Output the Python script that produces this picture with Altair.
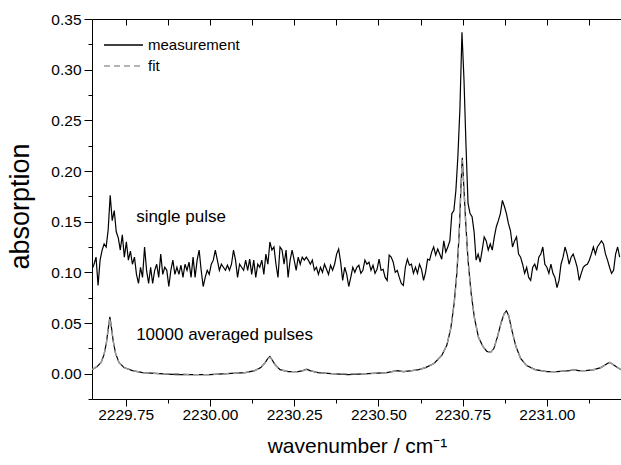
import altair as alt
import pandas as pd

# ---------------- data ----------------
# single pulse trace: sampled on a uniform wavenumber grid
sp_x_start = 2229.650
sp_x_step = 0.006
sp_y = [
    0.103, 0.108, 0.115, 0.087, 0.112, 0.122, 0.128, 0.125, 0.142, 0.176,
    0.151, 0.161, 0.140, 0.134, 0.122, 0.137, 0.115, 0.130, 0.112, 0.121,
    0.108, 0.115, 0.098, 0.089, 0.105, 0.095, 0.125, 0.102, 0.089, 0.105,
    0.089, 0.102, 0.108, 0.095, 0.118, 0.098, 0.105, 0.102, 0.086, 0.102,
    0.112, 0.098, 0.105, 0.098, 0.107, 0.095, 0.108, 0.102, 0.110, 0.095,
    0.115, 0.095, 0.112, 0.122, 0.102, 0.086, 0.095, 0.102, 0.098, 0.108,
    0.112, 0.122, 0.112, 0.102, 0.108, 0.105, 0.102, 0.107, 0.102, 0.108,
    0.122, 0.112, 0.095, 0.108, 0.105, 0.102, 0.112, 0.102, 0.113, 0.098,
    0.112, 0.095, 0.108, 0.105, 0.112, 0.098, 0.118, 0.108, 0.130, 0.122,
    0.125, 0.108, 0.095, 0.125, 0.122, 0.108, 0.122, 0.095, 0.112, 0.122,
    0.112, 0.102, 0.115, 0.108, 0.115, 0.112, 0.115, 0.112, 0.108, 0.112,
    0.102, 0.105, 0.098, 0.105, 0.100, 0.108, 0.103, 0.098, 0.107, 0.102,
    0.108, 0.118, 0.123, 0.110, 0.092, 0.105, 0.098, 0.086, 0.095, 0.105,
    0.100, 0.105, 0.107, 0.099, 0.102, 0.112, 0.108, 0.110, 0.102, 0.107,
    0.099, 0.103, 0.113, 0.102, 0.103, 0.095, 0.092, 0.117, 0.115, 0.110,
    0.100, 0.102, 0.095, 0.089, 0.087, 0.105, 0.113, 0.107, 0.108, 0.099,
    0.105, 0.099, 0.108, 0.103, 0.092, 0.100, 0.113, 0.112, 0.120, 0.125,
    0.117, 0.123, 0.118, 0.113, 0.131, 0.120, 0.125, 0.131, 0.158, 0.161,
    0.181, 0.215, 0.262, 0.337, 0.290, 0.225, 0.168, 0.158, 0.155, 0.140,
    0.112, 0.118, 0.110,
    0.122, 0.135, 0.131, 0.122, 0.128, 0.122, 0.135, 0.145, 0.151, 0.158,
    0.171, 0.165, 0.158, 0.148, 0.141, 0.125, 0.131, 0.135, 0.118, 0.115,
    0.108, 0.099, 0.105, 0.095, 0.092, 0.105, 0.108, 0.102, 0.115, 0.118,
    0.125, 0.108, 0.105, 0.099, 0.108, 0.099, 0.095, 0.085, 0.092, 0.108,
    0.115, 0.125, 0.118, 0.108, 0.115, 0.118, 0.112, 0.105, 0.092, 0.099,
    0.105, 0.107, 0.108, 0.112, 0.118, 0.125, 0.118, 0.125, 0.128, 0.131,
    0.128, 0.118, 0.112, 0.105, 0.099, 0.102, 0.118, 0.125, 0.115,
]

# 10000 averaged pulses (measurement) and its fit
avg_x = [
    2229.650, 2229.665, 2229.677, 2229.686, 2229.693, 2229.698, 2229.703, 2229.708, 2229.713, 2229.720,
    2229.730, 2229.745, 2229.770, 2229.800, 2229.850, 2229.900, 2229.950, 2230.000, 2230.050, 2230.105,
    2230.133, 2230.151, 2230.164, 2230.172, 2230.178, 2230.184, 2230.193, 2230.208, 2230.232, 2230.262,
    2230.276, 2230.287, 2230.297, 2230.320, 2230.360, 2230.410, 2230.470, 2230.525, 2230.555, 2230.575,
    2230.600, 2230.620, 2230.640, 2230.665, 2230.688, 2230.703, 2230.715, 2230.725, 2230.733, 2230.740,
    2230.745, 2230.749, 2230.753, 2230.759, 2230.766, 2230.775, 2230.785, 2230.797, 2230.810, 2230.822,
    2230.833, 2230.843, 2230.853, 2230.864, 2230.873, 2230.880, 2230.887, 2230.896, 2230.908, 2230.922,
    2230.940, 2230.965, 2231.000, 2231.030, 2231.068, 2231.080, 2231.093, 2231.115, 2231.140, 2231.160,
    2231.175, 2231.185, 2231.192, 2231.205, 2231.220,
]
avg_y = [
    0.004, 0.007, 0.011, 0.019, 0.031, 0.044, 0.056, 0.045, 0.032, 0.020,
    0.011, 0.006, 0.003, 0.001, 0.000, -0.001, -0.001, -0.001, 0.000, 0.001,
    0.003, 0.006, 0.011, 0.015, 0.017, 0.014, 0.009, 0.004, 0.002, 0.002,
    0.003, 0.0045, 0.003, 0.001, 0.000, -0.001, 0.000, 0.001, 0.003, 0.002,
    0.003, 0.004, 0.006, 0.010, 0.018, 0.028, 0.045, 0.070, 0.100, 0.140,
    0.185, 0.213, 0.188, 0.150, 0.112, 0.080, 0.055, 0.036, 0.027, 0.022,
    0.021, 0.025, 0.036, 0.050, 0.059, 0.062, 0.057, 0.043, 0.027, 0.015,
    0.008, 0.004, 0.002, 0.002, 0.003, 0.004, 0.003, 0.003, 0.004, 0.006,
    0.009, 0.011, 0.010, 0.007, 0.004,
]
fit_y = [
    0.004, 0.007, 0.011, 0.019, 0.031, 0.044, 0.055, 0.045, 0.032, 0.020,
    0.011, 0.006, 0.003, 0.001, 0.000, 0.000, -0.001, -0.001, 0.000, 0.001,
    0.003, 0.006, 0.011, 0.015, 0.016, 0.014, 0.009, 0.004, 0.002, 0.002,
    0.003, 0.004, 0.003, 0.001, 0.000, 0.000, 0.000, 0.001, 0.003, 0.002,
    0.003, 0.004, 0.006, 0.010, 0.018, 0.028, 0.045, 0.070, 0.100, 0.140,
    0.184, 0.211, 0.187, 0.150, 0.112, 0.080, 0.055, 0.036, 0.027, 0.022,
    0.021, 0.025, 0.036, 0.050, 0.059, 0.061, 0.057, 0.043, 0.027, 0.015,
    0.008, 0.004, 0.002, 0.002, 0.003, 0.004, 0.003, 0.003, 0.004, 0.006,
    0.009, 0.011, 0.010, 0.007, 0.004,
]

x_major = [2229.75, 2230.00, 2230.25, 2230.50, 2230.75, 2231.00]
x_minor = [2229.875, 2230.125, 2230.375, 2230.625, 2230.875, 2231.125]
y_major = [0.00, 0.05, 0.10, 0.15, 0.20, 0.25, 0.30, 0.35]
y_minor = [-0.025, 0.025, 0.075, 0.125, 0.175, 0.225, 0.275, 0.325]

annot_text = ["single pulse", "10000 averaged pulses"]
annot_x = [2229.781, 2229.781]
annot_y = [0.1546, 0.0380]

legend_labels = ["measurement", "fit"]

# ---------------- build tables ----------------
assert len(avg_x) == len(avg_y) == len(fit_y)
sp_x = [round(sp_x_start + sp_x_step * i, 4) for i in range(len(sp_y))]
meas_rows = [dict(x=a, y=b, trace="single") for a, b in zip(sp_x, sp_y)]
meas_rows += [dict(x=a, y=b, trace="averaged") for a, b in zip(avg_x, avg_y)]
meas_df = pd.DataFrame(meas_rows)
fit_df = pd.DataFrame(dict(x=avg_x, y=fit_y))
ann1 = pd.DataFrame(dict(x=[annot_x[0]], y=[annot_y[0]], t=[annot_text[0]]))
ann2 = pd.DataFrame(dict(x=[annot_x[1]], y=[annot_y[1]], t=[annot_text[1]]))

FONT = "Liberation Sans"
W, H = 529, 380
xs = alt.Scale(domain=[2229.65, 2231.22], nice=False, zero=False)
ys = alt.Scale(domain=[-0.025, 0.35], nice=False, zero=False)

ax_x_major = alt.Axis(orient="bottom", values=x_major, format=".2f", tickSize=7,
                      labelFont=FONT, labelFontSize=15.5, labelColor="black", labelPadding=1,
                      labelFlush=False, labelOverlap=False, domainColor="black", tickColor="black",
                      grid=False, title="wavenumber / cm\u207b\u00b9", titleFont=FONT,
                      titleFontSize=21, titleFontWeight="normal", titleColor="black",
                      titleX=265, titleY=53, titleAlign="center", titleBaseline="alphabetic")
ax_x_minor = alt.Axis(orient="bottom", values=x_minor, tickSize=4, labels=False, domain=False,
                      grid=False, title=None, tickColor="black")
ax_x_top_ticks = alt.Axis(orient="top", values=x_major + x_minor, tickSize=6, offset=-6,
                          labels=False, domain=False, grid=False, title=None, tickColor="black")
ax_x_top_line = alt.Axis(orient="top", ticks=False, labels=False, domain=True, domainColor="black",
                         grid=False, title=None)

ax_y_major = alt.Axis(orient="left", values=y_major, format=".2f", tickSize=8,
                      labelFont=FONT, labelFontSize=15.5, labelColor="black", labelPadding=3,
                      labelFlush=False, labelOverlap=False, domainColor="black", tickColor="black",
                      grid=False, title="absorption", titleFont=FONT, titleFontSize=27,
                      titleFontWeight="normal", titleColor="black", titleX=-72, titleY=187,
                      titleAlign="center", titleBaseline="middle", titleAngle=270)
ax_y_minor = alt.Axis(orient="left", values=y_minor, tickSize=4, labels=False, domain=False,
                      grid=False, title=None, tickColor="black")

meas = alt.Chart(meas_df).mark_line(color="black", strokeWidth=1.2, clip=True).encode(
    x=alt.X("x:Q", scale=xs, axis=ax_x_major),
    y=alt.Y("y:Q", scale=ys, axis=ax_y_major),
    detail="trace:N",
)
fit = alt.Chart(fit_df).mark_line(color="#9c9c9c", strokeWidth=1.5, strokeDash=[6, 4], clip=True).encode(
    x=alt.X("x:Q", scale=xs, axis=ax_x_minor),
    y=alt.Y("y:Q", scale=ys, axis=ax_y_minor),
)
t1 = alt.Chart(ann1).mark_text(align="left", baseline="middle", font=FONT, fontSize=17, color="black").encode(
    x=alt.X("x:Q", scale=xs, axis=ax_x_top_ticks),
    y=alt.Y("y:Q", scale=ys, axis=None),
    text="t:N",
)
t2 = alt.Chart(ann2).mark_text(align="left", baseline="middle", font=FONT, fontSize=17, color="black").encode(
    x=alt.X("x:Q", scale=xs, axis=ax_x_top_line),
    y=alt.Y("y:Q", scale=ys, axis=None),
    text="t:N",
)

# legend drawn by hand in the upper-left corner
leg1_df = pd.DataFrame(dict(t=[legend_labels[0]]))
leg2_df = pd.DataFrame(dict(t=[legend_labels[1]]))
leg_line1 = alt.Chart(leg1_df).mark_rule(color="black", strokeWidth=1.3).encode(
    x=alt.value(12), x2=alt.value(51), y=alt.value(26))
leg_line2 = alt.Chart(leg2_df).mark_rule(color="#9c9c9c", strokeWidth=1.5, strokeDash=[6, 4]).encode(
    x=alt.value(12), x2=alt.value(51), y=alt.value(47))
leg_text1 = alt.Chart(leg1_df).mark_text(align="left", baseline="middle", font=FONT, fontSize=15,
                                          color="black").encode(x=alt.value(56), y=alt.value(26), text="t:N")
leg_text2 = alt.Chart(leg2_df).mark_text(align="left", baseline="middle", font=FONT, fontSize=15,
                                          color="black").encode(x=alt.value(56), y=alt.value(47), text="t:N")

chart = alt.layer(meas, fit, t1, t2, leg_line1, leg_line2, leg_text1, leg_text2).resolve_axis(
    x="independent", y="independent"
).properties(
    width=W, height=H,
    autosize=alt.AutoSizeParams(type="none"),
    padding={"left": 92, "top": 19, "right": 0, "bottom": 66},
    background="white",
).configure_view(stroke=None)

chart.save("out.html", embed_options={"renderer": "svg", "actions": False})
